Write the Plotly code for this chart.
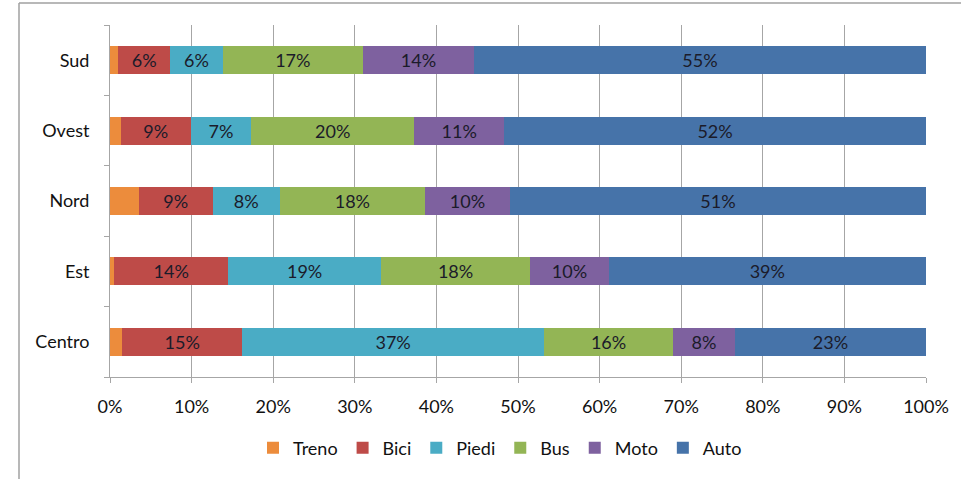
import plotly.graph_objects as go

regions = ["Centro", "Est", "Nord", "Ovest", "Sud"]
series_names = ["Treno", "Bici", "Piedi", "Bus", "Moto", "Auto"]
treno = [1.5, 0.5, 3.5, 1.3, 1.0]
bici = [14.7, 14.0, 9.1, 8.6, 6.4]
piedi = [37.0, 18.7, 8.2, 7.4, 6.4]
bus = [15.8, 18.3, 17.8, 20.0, 17.2]
moto = [7.6, 9.6, 10.4, 11.0, 13.6]
auto = [23.4, 38.9, 51.0, 51.7, 55.4]
show_labels = [False, True, True, True, True, True]
colors = ["#EC8C3C", "#BE4B48", "#4AACC5", "#93B555", "#7E619F", "#4673A9"]
x_ticks = [0, 10, 20, 30, 40, 50, 60, 70, 80, 90, 100]

values = [treno, bici, piedi, bus, moto, auto]
FONT = "Lato"

fig = go.Figure()
for name, vals, col, lab in zip(series_names, values, colors, show_labels):
    fig.add_trace(go.Bar(
        y=regions, x=vals, name=name, orientation="h",
        marker=dict(color=col, line=dict(width=0)),
        text=[f"{round(v):.0f}%" for v in vals] if lab else None,
        textposition="inside" if lab else "none",
        insidetextanchor="middle",
        textangle=0,
        textfont=dict(family=FONT, size=18, color="#1b1b2a"),
    ))

W, H = 961, 479
left_px, right_px, top_px, bottom_px = 110, 926, 25, 377
ml, mt = left_px, top_px
mr, mb = W - right_px, H - bottom_px
pw, ph = W - ml - mr, H - mt - mb

def px2paper_x(px):
    return (px - ml) / pw

def px2paper_y(py):
    return (H - mb - py) / ph

fig.update_layout(
    width=W, height=H,
    margin=dict(l=ml, r=mr, t=mt, b=mb),
    barmode="stack", bargap=0.6,
    plot_bgcolor="white", paper_bgcolor="white",
    font=dict(family=FONT, size=18, color="#111111"),
    uniformtext=dict(minsize=14, mode="show"),
    xaxis=dict(
        range=[0, 100], tickvals=x_ticks, ticktext=[f"{t}%" for t in x_ticks],
        showgrid=True, gridcolor="#A6A6A6", gridwidth=1,
        showline=True, linecolor="#A6A6A6", linewidth=1,
        ticks="outside", ticklen=5, tickcolor="#A6A6A6",
        ticklabelstandoff=8,
        tickfont=dict(family=FONT, size=18, color="#111111"),
        zeroline=False, fixedrange=True,
    ),
    yaxis=dict(
        categoryorder="array", categoryarray=regions,
        showline=True, linecolor="#A6A6A6", linewidth=1,
        ticks="outside", ticklen=5, tickcolor="#A6A6A6",
        tickson="boundaries",
        tickfont=dict(family=FONT, size=18, color="#111111"),
        ticklabelstandoff=16,
        showgrid=False, fixedrange=True, automargin=False,
    ),
    legend=dict(
        orientation="h", x=px2paper_x(500), xanchor="center",
        y=px2paper_y(448), yanchor="middle",
        font=dict(family=FONT, size=18, color="#111111"),
        traceorder="normal", itemwidth=30,
    ),
    showlegend=True,
    shapes=[
        dict(type="line", xref="paper", yref="paper",
             x0=px2paper_x(19), x1=px2paper_x(961), y0=px2paper_y(3), y1=px2paper_y(3),
             line=dict(color="#A0A0A0", width=1.5)),
        dict(type="line", xref="paper", yref="paper",
             x0=px2paper_x(19), x1=px2paper_x(19), y0=px2paper_y(3), y1=px2paper_y(479),
             line=dict(color="#A0A0A0", width=1.5)),
    ],
)

fig.write_html("out.html", config={"displayModeBar": False},
               post_script="document.body.style.margin='0';")
